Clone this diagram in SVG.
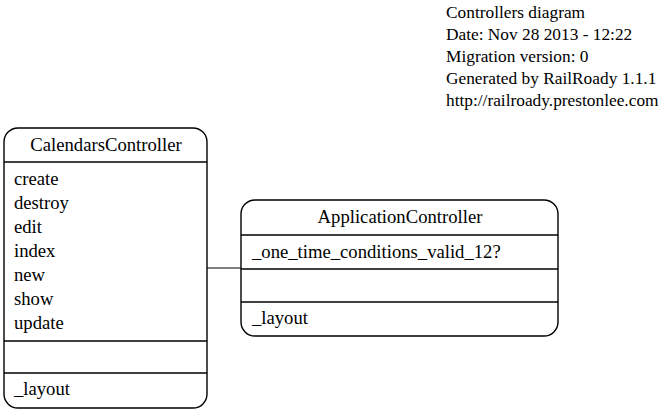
<svg xmlns="http://www.w3.org/2000/svg" width="666" height="416" viewBox="0 0 666 416">
<style>
text{font-family:"Liberation Serif","Times New Roman",serif;font-size:18.67px;fill:#000}
.lg{font-size:17.33px}
.box{fill:#fff;stroke:#000;stroke-width:1.4}
.sep{stroke:#000;stroke-width:1.4}
.edge{stroke:#000;stroke-width:1.2;fill:none}
.c{text-anchor:middle}
</style>
<rect width="666" height="416" fill="#fff"/>
<g id="legend" class="lg">
<text class="lg" x="446" y="18">Controllers diagram</text>
<text class="lg" x="446" y="40">Date: Nov 28 2013 - 12:22</text>
<text class="lg" x="446" y="62">Migration version: 0</text>
<text class="lg" x="446" y="84">Generated by RailRoady 1.1.1</text>
<text class="lg" x="446" y="106">http://railroady.prestonlee.com</text>
</g>
<g id="connectors">
<line class="edge" x1="207" y1="268" x2="241" y2="268"/>
</g>
<g id="CalendarsController">
<rect class="box" x="4" y="128" width="203" height="280" rx="14" ry="14"/>
<line class="sep" x1="4" y1="162" x2="207" y2="162"/>
<line class="sep" x1="4" y1="341" x2="207" y2="341"/>
<line class="sep" x1="4" y1="373" x2="207" y2="373"/>
<text class="c" x="106" y="151">CalendarsController</text>
<text x="14" y="185">create</text>
<text x="14" y="209">destroy</text>
<text x="14" y="233">edit</text>
<text x="14" y="257">index</text>
<text x="14" y="281">new</text>
<text x="14" y="305">show</text>
<text x="14" y="329">update</text>
<text x="14" y="395">_layout</text>
</g>
<g id="ApplicationController">
<rect class="box" x="241" y="200" width="317" height="136" rx="14" ry="14"/>
<line class="sep" x1="241" y1="235" x2="558" y2="235"/>
<line class="sep" x1="241" y1="269" x2="558" y2="269"/>
<line class="sep" x1="241" y1="302" x2="558" y2="302"/>
<text class="c" x="400" y="223">ApplicationController</text>
<text x="252" y="258">_one_time_conditions_valid_12?</text>
<text x="252" y="324">_layout</text>
</g>
</svg>
